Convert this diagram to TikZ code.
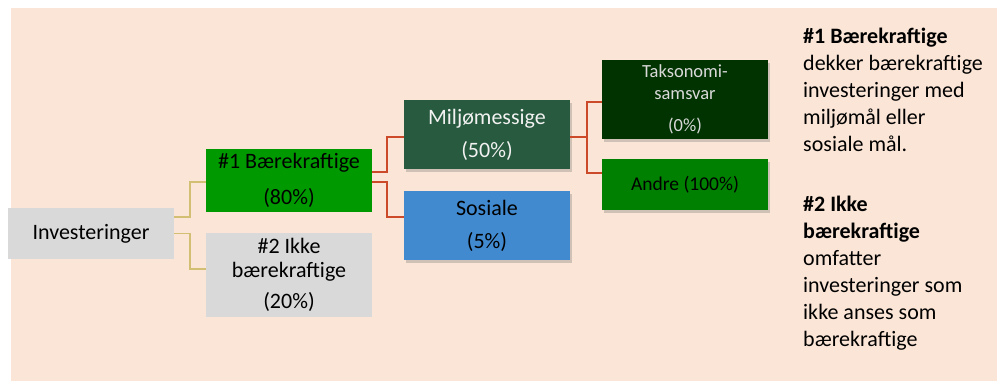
\documentclass[tikz,border=0pt]{standalone}
\usepackage{fontspec}
\setmainfont{Carlito}
\usetikzlibrary{shadows}
\definecolor{peach}{HTML}{FBE5D6}
\definecolor{boxgray}{HTML}{D9D9D9}
\definecolor{greenone}{HTML}{009900}
\definecolor{miljogreen}{HTML}{275A3E}
\definecolor{sosblue}{HTML}{418AD0}
\definecolor{takgreen}{HTML}{003300}
\definecolor{andregreen}{HTML}{008000}
\definecolor{tanc}{HTML}{D2BF73}
\definecolor{redc}{HTML}{CC4A2A}
\begin{document}
\begin{tikzpicture}[x=1pt,y=-1pt,
    box/.style={minimum width=166pt,align=center,inner sep=0pt,font=\fontsize{22}{24}\selectfont},
    shade/.style={drop shadow={opacity=0.35,shadow xshift=2pt,shadow yshift=-3pt}},
    tanline/.style={draw=tanc,line width=1.7pt},
    redline/.style={draw=redc,line width=1.7pt}]
    \useasboundingbox (0,0) rectangle (997,381);
    \fill[peach] (11,8) rectangle (997,381);

    \node[box,fill=boxgray,minimum height=51pt] (inv) at (91,233.5) {Investeringer};

    \node[box,fill=greenone,minimum height=63pt] (b1) at (289,180.5) {\#1 Bærekraftige\\[12pt](80\%)};
    \node[box,fill=boxgray,minimum height=84pt] (b2) at (289,275) {\#2 Ikke\\bærekraftige\\[7pt](20\%)};
    \draw[tanline] ([yshift=16.5pt]inv.east) -- ++(16,0) |- ([yshift=-1.5pt]b1.west);
    \draw[tanline] (inv.east) -- ++(16,0) |- ([yshift=6pt]b2.west);

    \node[box,shade,fill=miljogreen,text=white!95!black,minimum height=69pt] (miljo) at (487,134.5) {Miljømessige\\[9pt](50\%)};
    \node[box,shade,fill=sosblue,minimum height=69pt] (sos) at (487,225.5) {Sosiale\\[9pt](5\%)};
    \draw[redline] ([yshift=8.5pt]b1.east) -- ++(15,0) |- ([yshift=-2.5pt]miljo.west);
    \draw[redline] ([yshift=-1.5pt]b1.east) -- ++(15,0) |- ([yshift=8.5pt]sos.west);

    \node[box,shade,fill=takgreen,text=boxgray,minimum height=79pt,font=\fontsize{18.5}{22}\selectfont] (tak) at (685,99.5) {Taksonomi-\\samsvar\\[10pt](0\%)};
    \node[box,shade,fill=andregreen,minimum height=51pt,font=\fontsize{19.5}{22}\selectfont] (andre) at (685,184.5) {Andre (100\%)};
    \draw[redline] ([yshift=-2.5pt]miljo.east) -- ++(17,0) |- ([yshift=-2.5pt]tak.west);
    \draw[redline] ([yshift=-2.5pt]miljo.east) -- ++(17,0) |- ([yshift=11.5pt]andre.west);

    \node[anchor=north west,align=left,inner sep=0pt,font=\fontsize{22}{27}\selectfont] (note) at (803,28)
        {\textbf{\#1 Bærekraftige}\\dekker bærekraftige\\investeringer med\\miljømål eller\\sosiale mål.\\[33pt]
         \textbf{\#2 Ikke}\\\textbf{bærekraftige}\\omfatter\\investeringer som\\ikke anses som\\bærekraftige};
\end{tikzpicture}
\end{document}
